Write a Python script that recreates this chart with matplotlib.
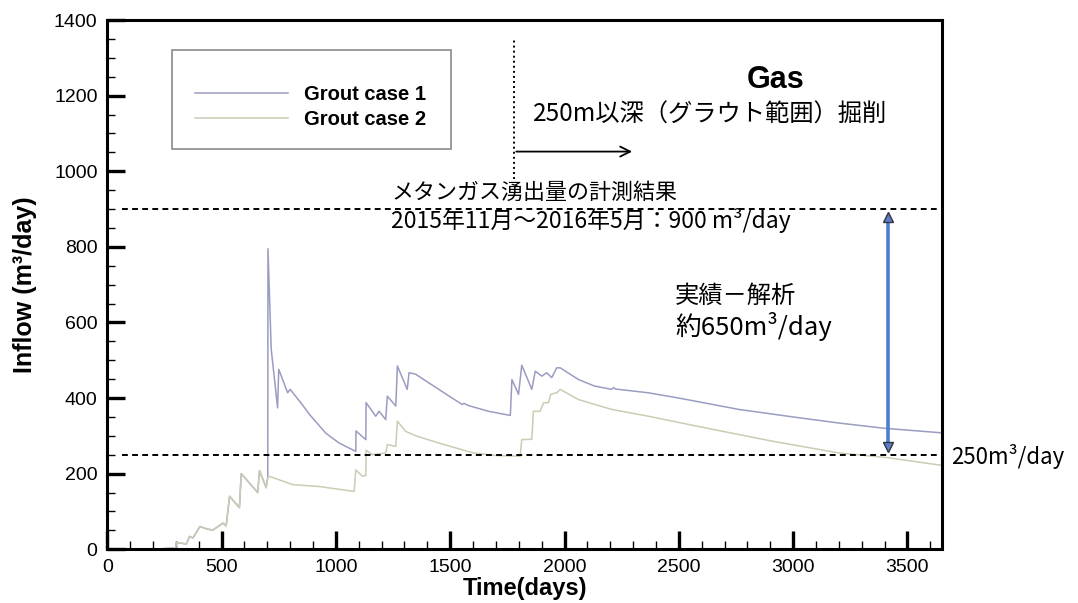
import numpy as np
import matplotlib
matplotlib.use("Agg")
import matplotlib.pyplot as plt
from matplotlib.ticker import MultipleLocator
from matplotlib.patches import Rectangle

# ---- data -------------------------------------------------------------
# common ramp of both grout cases (days, m3/day)
ramp_days = [250, 300, 302, 346, 360, 375, 405, 440, 462, 506, 520, 535,
             578, 586, 658, 666, 695, 702]
ramp_flow = [2, 4, 18, 14, 34, 30, 60, 53, 51, 69, 62, 140,
             110, 200, 150, 208, 163, 190]

case1_days = [703, 717, 745, 750, 789, 800, 850, 884, 956, 1014, 1087, 1088,
              1131, 1132, 1174, 1189, 1218, 1225, 1262, 1269, 1312, 1320, 1349,
              1450, 1552, 1560, 1581, 1668, 1763, 1770, 1799, 1813, 1857, 1872,
              1901, 1922, 1944, 1966, 1981, 2061, 2130, 2206, 2215, 2222, 2366,
              2500, 2762, 3000, 3199, 3400, 3650]
case1_flow = [795, 530, 374, 476, 414, 423, 385, 357, 307, 281, 259, 313,
              290, 388, 352, 365, 343, 405, 379, 485, 423, 467, 463,
              423, 383, 386, 380, 365, 354, 449, 410, 487, 423, 471,
              458, 467, 454, 480, 480, 449, 432, 423, 428, 424, 414,
              400, 370, 350, 334, 320, 308]

case2_days = [709, 811, 927, 1080, 1087, 1116, 1131, 1132, 1160, 1218, 1225,
              1262, 1269, 1305, 1350, 1450, 1600, 1700, 1806, 1813, 1857, 1864,
              1893, 1908, 1930, 1940, 1966, 1981, 2061, 2206, 2366, 2617, 2908,
              3199, 3418, 3650]
case2_flow = [193, 171, 166, 153, 210, 193, 195, 262, 250, 255, 277,
              272, 339, 312, 300, 281, 255, 248, 246, 290, 291, 365,
              365, 387, 388, 410, 414, 423, 396, 370, 352, 321, 286,
              255, 242, 222]

series_names = ["Grout case 1", "Grout case 2"]
series_colors = ["#9a9cc2", "#c9cdb4"]

measured_flow = 900      # measured methane inflow, m3/day
analysis_level = 250     # analysed inflow level, m3/day
excavation_start = 1777  # start of excavation below 250 m (days)
arrow_end = 2308
gap_x = 3415

# ---- figure -----------------------------------------------------------
plt.rcParams["font.family"] = ["Liberation Sans", "DejaVu Sans"]
jp = ["Noto Sans CJK JP", "DejaVu Sans"]

fig = plt.figure(figsize=(10.78, 6.03), dpi=100)
ax = fig.add_axes([0.0995, 0.0891, 0.7741, 0.8777])

x1 = np.array(ramp_days + case1_days)
y1 = np.array(ramp_flow + case1_flow)
x2 = np.array(ramp_days + case2_days)
y2 = np.array(ramp_flow + case2_flow)

ax.plot(x1, y1, color=series_colors[0], lw=1.1, label=series_names[0])
ax.plot(x2, y2, color=series_colors[1], lw=1.1, label=series_names[1])

ax.set_xlim(0, 3650)
ax.set_ylim(0, 1400)

# reference levels
ax.plot([65, 3650], [measured_flow, measured_flow], color="black",
        lw=1.4, ls=(0, (3, 2.2)))
ax.plot([65, 3650], [analysis_level, analysis_level], color="black",
        lw=1.4, ls=(0, (3, 2.2)))

# excavation start marker and arrow
ax.plot([excavation_start, excavation_start], [980, 1350], color="black",
        lw=1.4, ls=(0, (1, 1.6)))
ax.annotate("", xy=(arrow_end, 1052), xytext=(excavation_start, 1052),
            arrowprops=dict(arrowstyle="->", color="black", lw=1.3,
                            mutation_scale=18))

# difference between measured and analysed inflow
ax.plot([gap_x, gap_x], [measured_flow - 15, analysis_level + 15],
        color="#4a7fd0", lw=2.6, solid_capstyle="butt")
ax.plot([gap_x], [measured_flow - 22], marker="^", ms=7,
        mfc="#5b7fc0", mec="#333344", mew=1.0)
ax.plot([gap_x], [analysis_level + 20], marker="v", ms=7,
        mfc="#5b7fc0", mec="#333344", mew=1.0)

# ---- text -------------------------------------------------------------
ax.text(2925, 1241, "Gas", fontsize=22, fontweight="bold", ha="center",
        va="center")
ax.text(1860, 1149, "250m以深（グラウト範囲）掘削", fontsize=17.5, family=jp,
        ha="left", va="center")
ax.text(1243, 943, "メタンガス湧出量の計測結果", fontsize=15.8, family=jp,
        ha="left", va="center")
ax.text(1243, 869, "2015年11月～2016年5月：900 m³/day", fontsize=16.5,
        family=jp, ha="left", va="center")
ax.text(2484, 670, "実績－解析", fontsize=17.5, family=jp, ha="left",
        va="center")
ax.text(2484, 588, "約650m³/day", fontsize=18.5, family=jp, ha="left",
        va="center")
ax.text(3693, analysis_level - 5, "250m³/day", fontsize=16, family=jp,
        ha="left", va="center", clip_on=False)

# ---- axes styling -----------------------------------------------------
ax.xaxis.set_major_locator(MultipleLocator(500))
ax.xaxis.set_minor_locator(MultipleLocator(100))
ax.yaxis.set_major_locator(MultipleLocator(200))
ax.yaxis.set_minor_locator(MultipleLocator(50))
ax.tick_params(which="major", direction="in", length=13, width=2.4,
               labelsize=14, pad=7)
ax.tick_params(which="minor", direction="in", length=6, width=1.0)
for side in ["left", "bottom", "top", "right"]:
    ax.spines[side].set_linewidth(2.2)

ax.set_xlabel("Time(days)", fontsize=17, fontweight="bold", labelpad=1)
ax.set_ylabel("Inflow (m³/day)", fontsize=18, fontweight="bold")
ax.yaxis.set_label_coords(-0.084, 0.5)

# legend frame and entries
ax.add_patch(Rectangle((0.0775, 0.756), 0.3345, 0.187,
                       transform=ax.transAxes, fill=False,
                       edgecolor="#8a8a8a", lw=1.2, zorder=4))
leg = ax.legend(loc="upper left", bbox_to_anchor=(0.105, 0.878),
                borderaxespad=0, borderpad=0, frameon=False,
                prop=dict(weight="bold", size=14.5),
                handlelength=4.6, handletextpad=0.8, labelspacing=0.32)

fig.savefig("out.png", dpi=100)
